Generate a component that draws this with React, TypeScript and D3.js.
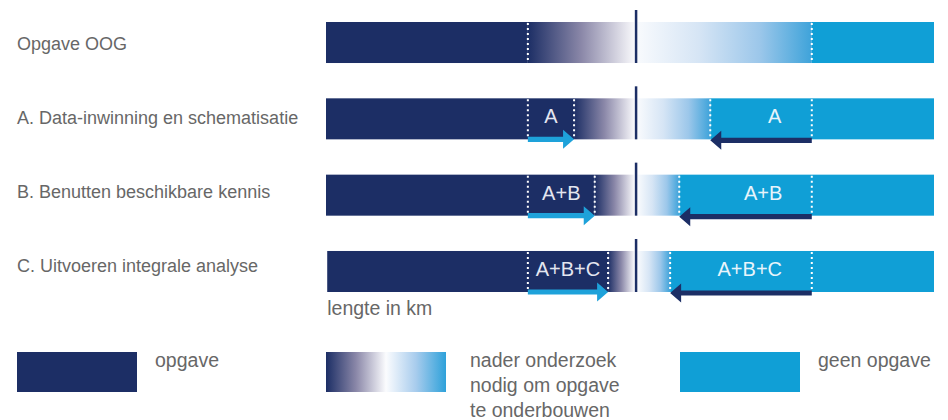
import React from "react";
import * as d3 from "d3";

const rowLabels = [
  "Opgave OOG",
  "A. Data-inwinning en schematisatie",
  "B. Benutten beschikbare kennis",
  "C. Uitvoeren integrale analyse",
];
const stepLabels = ["", "A", "A+B", "A+B+C"];
// values in km-units along the bar (0..100)
const barStart = [0, 0, 0, 0.2];
const barEnd = [100, 100, 100, 100];
const baseLeft = 33.2; // original edge of "opgave"
const baseRight = 79.9; // original edge of "geen opgave"
const centerKm = 51.0;
const leftEnd = [33.2, 40.8, 44.2, 46.4];
const rightStart = [79.9, 63.2, 58.1, 56.6];
const rightLabelKm = [0, 73.8, 71.9, 69.7];
const legendLabels = [["opgave"], ["nader onderzoek", "nodig om opgave", "te onderbouwen"], ["geen opgave"]];
const axisLabel = "lengte in km";

const NAVY = "#1c2e65";
const BLUE = "#109fd6";
const TEXT = "#676767";
const FONT = "'Liberation Sans', Arial, sans-serif";

export default function App() {
  const W = 948, H = 420;
  const x = d3.scaleLinear().domain([0, 100]).range([326, 934]);
  const idx = rowLabels.map((_, i) => i);
  const y = d3.scaleBand<number>().domain(idx).range([22, 292]).paddingInner(0.4626).paddingOuter(0);
  const bw = y.bandwidth();
  const labelY = d3.scaleLinear().domain([0, 3]).range([50, 272]);
  const gap = 0.3;

  const arrow = (x0: number, x1: number, yc: number, color: string) => {
    const dir = x1 > x0 ? 1 : -1;
    const hl = 11, hh = 9.5, sh = 2.6;
    const xb = x1 - dir * hl;
    const p = d3.path();
    p.moveTo(x0, yc - sh);
    p.lineTo(xb, yc - sh);
    p.lineTo(xb, yc - hh);
    p.lineTo(x1, yc);
    p.lineTo(xb, yc + hh);
    p.lineTo(xb, yc + sh);
    p.lineTo(x0, yc + sh);
    p.closePath();
    return <path d={p.toString()} fill={color} />;
  };

  return (
    <svg width={W} height={H} style={{ position: "absolute", left: 0, top: 0, background: "#fff" }} fontFamily={FONT}>
      <defs>
        <linearGradient id="fadeL" x1="0" x2="1" y1="0" y2="0">
          <stop offset="0" stopColor={NAVY} />
          <stop offset="0.5" stopColor="#8a87a8" />
          <stop offset="1" stopColor="#f8f8fb" />
        </linearGradient>
        <linearGradient id="fadeR" x1="0" x2="1" y1="0" y2="0">
          <stop offset="0" stopColor="#f8fafd" />
          <stop offset="0.35" stopColor="#d6e5f5" />
          <stop offset="0.7" stopColor="#9cc7ea" />
          <stop offset="1" stopColor="#3ea3da" />
        </linearGradient>
        <linearGradient id="legendG" x1="0" x2="1" y1="0" y2="0">
          <stop offset="0" stopColor={NAVY} />
          <stop offset="0.25" stopColor="#8a87a8" />
          <stop offset="0.5" stopColor="#fbfcfe" />
          <stop offset="0.75" stopColor="#a8cced" />
          <stop offset="1" stopColor="#2ea1da" />
        </linearGradient>
      </defs>

      {idx.map((i) => {
        const top = y(i)!;
        const bot = top + bw;
        const dots = i === 0 ? [baseLeft, baseRight] : [baseLeft, leftEnd[i], rightStart[i], baseRight];
        return (
          <g key={i}>
            <text x={17} y={labelY(i)} fontSize={18} fill={TEXT}>{rowLabels[i]}</text>
            <rect x={x(barStart[i])} y={top} width={x(leftEnd[i]) - x(barStart[i])} height={bw} fill={NAVY} />
            <rect x={x(leftEnd[i])} y={top} width={x(centerKm - gap) - x(leftEnd[i])} height={bw} fill="url(#fadeL)" />
            <rect x={x(centerKm + gap)} y={top} width={x(rightStart[i]) - x(centerKm + gap)} height={bw} fill="url(#fadeR)" />
            <rect x={x(rightStart[i])} y={top} width={x(barEnd[i]) - x(rightStart[i])} height={bw} fill={BLUE} />
            <line x1={x(centerKm)} x2={x(centerKm)} y1={top - 12} y2={bot} stroke={NAVY} strokeWidth={2.5} />
            {dots.map((d, k) => (
              <line key={k} x1={x(d)} x2={x(d)} y1={top + 1} y2={bot} stroke="#fff" strokeWidth={2} strokeDasharray="2,3" />
            ))}
            {i > 0 && (
              <>
                <text x={(x(baseLeft) + x(leftEnd[i])) / 2} y={top + 25} fontSize={20} fill="#e4e6f0" textAnchor="middle">{stepLabels[i]}</text>
                <text x={x(rightLabelKm[i])} y={top + 25} fontSize={20} fill="#e8f4fb" textAnchor="middle">{stepLabels[i]}</text>
                {arrow(x(baseLeft), x(leftEnd[i]), bot, "#1ea2da")}
                {arrow(x(baseRight), x(rightStart[i]), bot + 1, NAVY)}
              </>
            )}
          </g>
        );
      })}

      <text x={x(barStart[3])} y={315} fontSize={19.5} fill={TEXT}>{axisLabel}</text>

      <rect x={17} y={352} width={120} height={40} fill={NAVY} />
      <rect x={326} y={352} width={120} height={40} fill="url(#legendG)" />
      <rect x={680} y={352} width={120} height={40} fill={BLUE} />
      {[155, 470, 818].map((lx, k) => (
        <text key={k} x={lx} y={367} fontSize={19.5} fill={TEXT}>
          {legendLabels[k].map((t, j) => (
            <tspan key={j} x={lx} dy={j === 0 ? 0 : 25}>{t}</tspan>
          ))}
        </text>
      ))}
    </svg>
  );
}
